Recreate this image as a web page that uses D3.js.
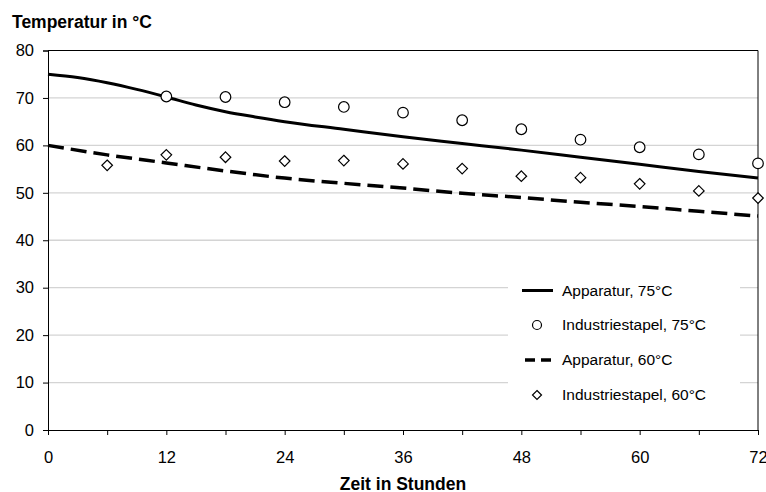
<!DOCTYPE html>
<html><head><meta charset="utf-8">
<script src="https://cdn.jsdelivr.net/npm/d3@7"></script>
<style>
body{margin:0;background:#fff;}
text{font-family:"Liberation Sans",Arial,sans-serif;fill:#000;}
</style></head>
<body>
<svg id="c" width="766" height="492"></svg>
<script>
// Apparatur 75°C (Stunden, Temperatur)
const app75Hours = [0, 3, 6, 9, 12, 15, 18, 21, 24, 30, 36, 42, 48, 54, 60, 66, 72];
const app75Temps = [75, 74.3, 73.2, 71.8, 70.2, 68.5, 67.1, 66, 65, 63.4, 61.8, 60.4, 59, 57.5, 56, 54.5, 53.1];
// Apparatur 60°C
const app60Hours = [0, 6, 12, 18, 24, 30, 36, 42, 48, 54, 60, 66, 72];
const app60Temps = [60, 58, 56.3, 54.6, 53.1, 52, 51, 49.9, 49, 48, 47.1, 46.1, 45.1];
// Industriestapel 75°C
const ind75Hours = [12, 18, 24, 30, 36, 42, 48, 54, 60, 66, 72];
const ind75Temps = [70.3, 70.2, 69.1, 68.1, 66.9, 65.3, 63.4, 61.2, 59.6, 58.1, 56.2];
// Industriestapel 60°C
const ind60Hours = [6, 12, 18, 24, 30, 36, 42, 48, 54, 60, 66, 72];
const ind60Temps = [55.8, 58, 57.5, 56.7, 56.8, 56.1, 55.1, 53.5, 53.2, 51.9, 50.4, 48.9];

const xTicks = [0, 12, 24, 36, 48, 60, 72];
const xMinorTicks = [0, 6, 12, 18, 24, 30, 36, 42, 48, 54, 60, 66, 72];
const yTicks = [0, 10, 20, 30, 40, 50, 60, 70, 80];
const legendLabels = ["Apparatur, 75°C", "Industriestapel, 75°C", "Apparatur, 60°C", "Industriestapel, 60°C"];
const yTitle = "Temperatur in °C";
const xTitle = "Zeit in Stunden";

const svg = d3.select("#c");
const L = 48, R = 758, T = 50.5, B = 430;
const x = d3.scaleLinear().domain([0, 72]).range([L, R]);
const y = d3.scaleLinear().domain([0, 80]).range([B, T]);

// gridlines
svg.append("g").selectAll("line").data(yTicks.filter(v => v > 0 && v < 80)).join("line")
  .attr("x1", L).attr("x2", R).attr("y1", d => y(d)).attr("y2", d => y(d))
  .attr("stroke", "#d4d4d4").attr("stroke-width", 1.3);

// frame top & right
svg.append("line").attr("x1", L).attr("x2", R).attr("y1", y(80)).attr("y2", y(80)).attr("stroke", "#000").attr("stroke-width", 1);
svg.append("line").attr("x1", R).attr("x2", R).attr("y1", y(80)).attr("y2", B).attr("stroke", "#000").attr("stroke-width", 1);

// axes
const yAxis = d3.axisLeft(y).tickValues(yTicks).tickSize(5).tickPadding(9).tickFormat(d3.format("d"));
const gy = svg.append("g").attr("transform", `translate(${L},0)`).call(yAxis);
gy.select(".domain").attr("stroke", "#000");
gy.selectAll("text").style("font-size", "16.5px");

const xAxisMinor = d3.axisBottom(x).tickValues(xMinorTicks).tickSize(5).tickFormat("");
svg.append("g").attr("transform", `translate(0,${B})`).call(xAxisMinor).select(".domain").attr("stroke", "#000");
const xAxis = d3.axisBottom(x).tickValues(xTicks).tickSize(0).tickPadding(21).tickFormat(d3.format("d"));
const gx = svg.append("g").attr("transform", `translate(0,${B})`).call(xAxis);
gx.select(".domain").remove();
gx.selectAll("text").style("font-size", "16.5px");

// titles
svg.append("text").attr("x", 12).attr("y", 28).text(yTitle)
  .style("font-size", "17.5px").style("font-weight", "bold");
svg.append("text").attr("x", 403).attr("y", 489.5).attr("text-anchor", "middle").text(xTitle)
  .style("font-size", "17.5px").style("font-weight", "bold");

// lines
const line = d3.line().x(d => x(d[0])).y(d => y(d[1])).curve(d3.curveMonotoneX);
svg.append("path").datum(d3.zip(app75Hours, app75Temps)).attr("d", line)
  .attr("fill", "none").attr("stroke", "#000").attr("stroke-width", 3);
svg.append("path").datum(d3.zip(app60Hours, app60Temps)).attr("d", line)
  .attr("fill", "none").attr("stroke", "#000").attr("stroke-width", 3.5).attr("stroke-dasharray", "16,7");

// markers
const diamond = s => `M0,${-s}L${s},0L0,${s}L${-s},0Z`;
svg.append("g").selectAll("circle").data(d3.zip(ind75Hours, ind75Temps)).join("circle")
  .attr("cx", d => x(d[0])).attr("cy", d => y(d[1])).attr("r", 5.3)
  .attr("fill", "#fff").attr("stroke", "#000").attr("stroke-width", 1.2);
svg.append("g").selectAll("path").data(d3.zip(ind60Hours, ind60Temps)).join("path")
  .attr("transform", d => `translate(${x(d[0])},${y(d[1])})`).attr("d", diamond(5.3))
  .attr("fill", "#fff").attr("stroke", "#000").attr("stroke-width", 1.2);

// legend
const lg = svg.append("g");
lg.append("rect").attr("x", 508).attr("y", 272).attr("width", 232).attr("height", 138).attr("fill", "#fff");
const ly = [290.5, 325, 360, 395];
legendLabels.forEach((t, i) => {
  lg.append("text").attr("x", 562).attr("y", ly[i]).attr("dy", "0.33em").text(t).style("font-size", "15.5px");
});
lg.append("line").attr("x1", 522).attr("x2", 553).attr("y1", ly[0]).attr("y2", ly[0]).attr("stroke", "#000").attr("stroke-width", 3);
lg.append("circle").attr("cx", 537).attr("cy", ly[1]).attr("r", 4.5).attr("fill", "#fff").attr("stroke", "#000").attr("stroke-width", 1.2);
lg.append("line").attr("x1", 525).attr("x2", 551).attr("y1", ly[2]).attr("y2", ly[2]).attr("stroke", "#000").attr("stroke-width", 3.5).attr("stroke-dasharray", "10,6");
lg.append("path").attr("transform", `translate(537,${ly[3]})`).attr("d", diamond(4.5)).attr("fill", "#fff").attr("stroke", "#000").attr("stroke-width", 1.2);
</script>
</body></html>
